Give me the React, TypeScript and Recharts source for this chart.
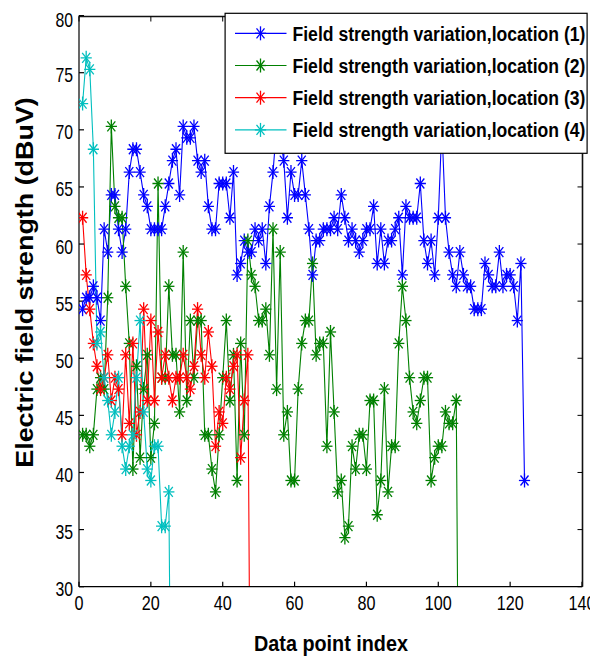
import React from 'react';
import { LineChart, Line, XAxis, YAxis, Legend } from 'recharts';

const xTicks = [0, 20, 40, 60, 80, 100, 120, 140];
const yTicks = [30, 35, 40, 45, 50, 55, 60, 65, 70, 75, 80];
const xDomain = [0, 140];
const yDomain = [30, 80];

const seriesNames = [
  'Field strength variation,location (1)',
  'Field strength variation,location (2)',
  'Field strength variation,location (3)',
  'Field strength variation,location (4)',
];
const colors = ['#0000ff', '#008000', '#ff0000', '#00bfbf'];

const location1 = [
  54.3, 55.3, 55.3, 56.3, 55.3, 53.3, 61.3, 59.3, 64.3, 64.3,
  61.3, 59.3, 61.3, 66.3, 68.3, 68.3, 66.3, 64.3, 63.3, 61.3,
  61.3, 61.3, 61.3, 63.3, 65.3, 67.3, 68.3, 64.3, 70.3, 69.3,
  69.3, 70.3, 67.3, 66.3, 67.3, 63.3, 61.3, 61.3, 65.3, 65.3,
  65.3, 62.3, 66.3, 57.3, 58.3, 60.3, 59.3, 59.3, 61.3, 60.3,
  61.3, 58.3, 63.3, 66.3, 70.3, 69.3, 67.3, 62.3, 66.3, 64.3,
  64.3, 67.3, 64.3, 61.3, 57.3, 60.3, 60.3, 61.3, 61.3, 61.3,
  62.3, 61.3, 64.3, 62.3, 60.3, 61.3, 60.3, 59.3, 60.3, 61.3,
  61.3, 63.3, 58.3, 61.3, 58.3, 60.3, 60.3, 61.3, 62.3, 57.3,
  63.3, 62.3, 62.3, 62.3, 65.3, 60.3, 58.3, 60.3, 57.3, 62.3,
  70.3, 62.3, 59.3, 57.3, 56.3, 59.3, 57.3, 56.3, 56.3, 54.3,
  54.3, 54.3, 58.3, 57.3, 56.3, 56.3, 59.3, 56.3, 57.3, 57.3,
  56.3, 53.3, 58.3, 39.3,
];

const location2 = [
  43.3, 43.3, 42.3, 43.3, 47.3, 48.3, 47.3, 55.3, 70.3, 63.3,
  62.3, 62.3, 56.3, 51.3, 40.3, 49.3, 41.3, 47.3, 50.3, 41.3,
  44.3, 65.3, 48.3, 48.3, 56.3, 50.3, 50.3, 45.3, 59.3, 46.3,
  53.3, 48.3, 53.3, 53.3, 43.3, 43.3, 40.3, 38.3, 43.3, 48.3,
  53.3, 46.3, 50.3, 39.3, 51.3, 43.3, 60.3, 57.3, 56.3, 53.3,
  53.3, 54.3, 50.3, 61.3, 47.3, 59.3, 43.3, 45.3, 39.3, 39.3,
  47.3, 51.3, 53.3, 53.3, 58.3, 50.3, 51.3, 51.3, 42.3, 52.3,
  45.3, 38.3, 39.3, 34.3, 35.3, 42.3, 40.3, 43.3, 43.3, 40.3,
  46.3, 46.3, 36.3, 39.3, 47.3, 38.3, 42.3, 42.3, 51.3, 56.3,
  53.3, 48.3, 45.3, 44.3, 46.3, 48.3, 48.3, 39.3, 41.3, 42.3,
  42.3, 45.3, 44.3, 44.3, 46.3, 0,
];

const location3 = [
  62.3, 57.3, 54.3, 51.3, 49.3, 47.3, 48.3, 50.3, 46.3, 48.3,
  47.3, 43.3, 50.3, 44.3, 51.3, 43.3, 45.3, 54.3, 46.3, 53.3,
  46.3, 52.3, 48.3, 50.3, 48.3, 46.3, 48.3, 48.3, 50.3, 48.3,
  47.3, 49.3, 54.3, 50.3, 48.3, 52.3, 49.3, 42.3, 45.3, 44.3,
  48.3, 47.3, 49.3, 50.3, 41.3, 46.3, 50.3, 0,
];

const location4 = [
  72.3, 76.3, 75.3, 68.3, 51.3, 52.3, 48.3, 46.3, 43.3, 45.3,
  48.3, 42.3, 40.3, 42.3, 43.3, 48.3, 53.3, 45.3, 40.3, 39.3,
  42.3, 42.3, 35.3, 35.3, 38.3, 0,
];

const allSeries = [location1, location2, location3, location4];
const toPoints = (vals: number[]) => vals.map((v, i) => ({ idx: i + 1, value: v }));

const FONT = 'Liberation Sans, Arial, Helvetica, sans-serif';

// chart geometry (layout only)
const CHART_W = 590;
const CHART_H = 654;
const M_TOP = 7.6;
const M_RIGHT = 16;
const Y_AXIS_W = 71;
const X_AXIS_H = 75.3;
const PLOT_L = Y_AXIS_W;
const PLOT_T = M_TOP;
const PLOT_W = CHART_W - Y_AXIS_W - M_RIGHT;
const PLOT_H = CHART_H - M_TOP - X_AXIS_H;

function star(cx: number, cy: number, color: string, key?: any) {
  const rh = 5.6, rv = 7, dh = 4, dv = 5;
  return (
    <g key={key} stroke={color} strokeWidth={1.3} fill="none">
      <line x1={cx - rh} y1={cy} x2={cx + rh} y2={cy} />
      <line x1={cx} y1={cy - rv} x2={cx} y2={cy + rv} />
      <line x1={cx - dh} y1={cy - dv} x2={cx + dh} y2={cy + dv} />
      <line x1={cx - dh} y1={cy + dv} x2={cx + dh} y2={cy - dv} />
    </g>
  );
}

const makeDot = (color: string) => (props: any) => {
  const { cx, cy, index } = props;
  if (cx == null || cy == null || isNaN(cx) || isNaN(cy)) return <g key={`e${index}`} />;
  return star(cx, cy, color, `d${index}`);
};

const XTick = (props: any) => {
  const { x, y, payload } = props;
  const s = String(payload.value);
  return (
    <text transform={`translate(${x},${y + 23}) scale(0.77,1)`} textAnchor="middle"
      fontFamily={FONT} fontSize={21} fill="#000">{s}</text>
  );
};

const YTick = (props: any) => {
  const { x, y, payload } = props;
  const s = String(payload.value);
  return (
    <text transform={`translate(${x - 6},${y + 9.5}) scale(0.79,1)`} textAnchor="end"
      fontFamily={FONT} fontSize={20} fill="#000">{s}</text>
  );
};

const XLabel = () => (
  <text transform="translate(323,643) scale(0.9,1)" textAnchor="middle" fontFamily={FONT}
    fontSize={22} fontWeight="bold" fill="#000">Data point index</text>
);

const YLabel = () => (
  <text transform="translate(25,274.5) rotate(-90) scale(1.17,1)" textAnchor="middle"
    fontFamily={FONT} fontSize={23} fontWeight="bold" fill="#000">
    Electric field strength (dBuV)
  </text>
);

// Overlay: mirrored box edges (top, right) with inward ticks, plus the legend box
const renderOverlay = () => {
  const right = Math.round(PLOT_L + PLOT_W) + 0.5;
  const top = Math.round(PLOT_T) + 0.5;
  const bottom = PLOT_T + PLOT_H;
  const sx = (v: number) => PLOT_L + ((v - xDomain[0]) / (xDomain[1] - xDomain[0])) * PLOT_W;
  const sy = (v: number) => bottom - ((v - yDomain[0]) / (yDomain[1] - yDomain[0])) * PLOT_H;
  return (
    <svg width={CHART_W} height={CHART_H} style={{ display: 'block', pointerEvents: 'none' }}>
      <path d={`M${PLOT_L},${top} H${right} V${bottom}`} fill="none" stroke="#111"
        strokeWidth={1.6} />
      {xTicks.map((t) => (
        <line key={`tx${t}`} x1={sx(t)} x2={sx(t)} y1={top} y2={top + 5} stroke="#000" strokeWidth={1} />
      ))}
      {yTicks.map((t) => (
        <line key={`ty${t}`} x1={right - 5} x2={right} y1={sy(t)} y2={sy(t)} stroke="#000" strokeWidth={1} />
      ))}
      <g transform="translate(216.5,4.7)">
        <rect x={0.6} y={0.6} width={362} height={140} fill="#fff" stroke="#000" strokeWidth={1.2} />
        {seriesNames.map((name, i) => {
          const cy = 20.6 + i * 32.2;
          return (
            <g key={name}>
              <line x1={10.5} x2={62} y1={cy} y2={cy} stroke={colors[i]} strokeWidth={1.2} />
              {star(36, cy, colors[i])}
              <text transform={`translate(68,${cy + 7.5}) scale(0.837,1)`} fontFamily={FONT}
                fontWeight="bold" fontSize={21} fill="#000">{name}</text>
            </g>
          );
        })}
      </g>
    </svg>
  );
};

export default function App() {
  return (
    <LineChart width={CHART_W} height={CHART_H}
      margin={{ top: M_TOP, right: M_RIGHT, bottom: 0, left: 0 }}>
      <XAxis type="number" dataKey="idx" domain={xDomain} ticks={xTicks}
        allowDataOverflow height={X_AXIS_H} tickSize={-5} tickMargin={5}
        tick={<XTick />} stroke="#000" strokeWidth={1.2} label={<XLabel />} />
      <YAxis type="number" domain={yDomain} ticks={yTicks} allowDataOverflow
        width={Y_AXIS_W} tickSize={-5} tickMargin={5} tick={<YTick />} stroke="#000"
        strokeWidth={1.2} label={<YLabel />} />
      {allSeries.map((vals, i) => (
        <Line key={seriesNames[i]} data={toPoints(vals)} dataKey="value" name={seriesNames[i]}
          stroke={colors[i]} strokeWidth={1.1} type="linear" dot={makeDot(colors[i])}
          activeDot={false} isAnimationActive={false} />
      ))}
      <Legend layout="horizontal" verticalAlign="middle" align="center" content={renderOverlay}
        wrapperStyle={{ left: 0, top: 0, width: CHART_W, height: CHART_H, pointerEvents: 'none' }} />
    </LineChart>
  );
}
